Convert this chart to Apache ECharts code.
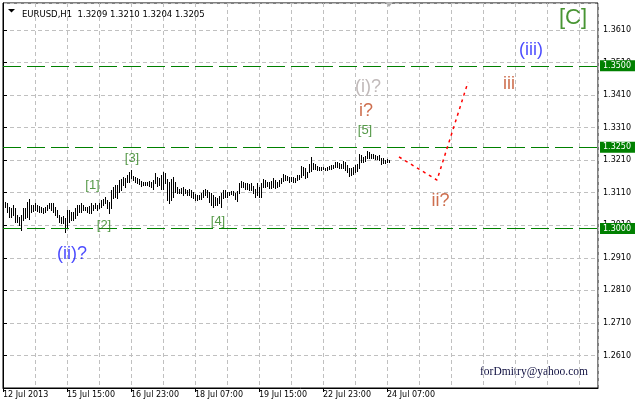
<!DOCTYPE html>
<html><head><meta charset="utf-8">
<script src="https://cdn.jsdelivr.net/npm/echarts@6/dist/echarts.min.js"></script>
<style>html,body{margin:0;padding:0;background:#fff}#c{width:637px;height:408px}</style>
</head><body><div id="c"></div>
<script>
const symbolTitle = 'EURUSD,H1  1.3209 1.3210 1.3204 1.3205';
const firstBarIndex = 1;
const barHigh = [
1.3082,1.3077,1.3067,1.3062,1.3072,1.3062,1.3041,1.3036,1.3041,1.3062,
1.3062,1.3082,1.3090,1.3072,1.3072,1.3077,1.3072,1.3069,1.3067,1.3064,
1.3067,1.3072,1.3077,1.3077,1.3079,1.3067,1.3057,1.3041,1.3036,1.3038,
1.3031,1.3057,1.3057,1.3052,1.3052,1.3062,1.3072,1.3072,1.3077,1.3072,
1.3067,1.3067,1.3069,1.3077,1.3072,1.3077,1.3072,1.3077,1.3088,1.3090,
1.3098,1.3088,1.3082,1.3118,1.3129,1.3134,1.3134,1.3149,1.3151,1.3157,
1.3154,1.3164,1.3175,1.3180,
1.3161,1.3159,1.3154,1.3151,1.3147,1.3144,1.3144,1.3144,1.3147,1.3144,
1.3149,1.3172,1.3157,1.3154,1.3164,1.3175,1.3170,1.3151,1.3144,1.3151,
1.3159,1.3144,1.3129,1.3123,1.3126,1.3129,1.3123,1.3118,1.3123,1.3118,
1.3113,1.3106,1.3103,1.3103,1.3108,1.3118,1.3120,1.3118,1.3113,1.3110,
1.3103,1.3096,1.3093,1.3100,1.3108,1.3118,1.3118,1.3113,1.3113,1.3116,
1.3116,1.3110,1.3116,1.3141,1.3147,1.3144,1.3141,1.3139,1.3137,1.3141,
1.3131,1.3123,1.3139,1.3129,1.3140,
1.3152,1.3149,1.3144,1.3144,1.3146,1.3154,1.3149,1.3144,1.3149,1.3154,
1.3169,1.3164,1.3162,1.3159,1.3159,1.3159,1.3154,1.3164,1.3164,1.3193,
1.3190,1.3185,1.3173,1.3197,1.3219,1.3200,1.3197,1.3193,1.3190,1.3190,
1.3190,1.3187,1.3190,1.3193,1.3195,1.3195,1.3205,1.3205,1.3200,1.3197,
1.3207,1.3205,1.3195,1.3187,1.3185,1.3190,1.3195,1.3197,1.3228,1.3226,
1.3221,1.3224,1.3238,1.3236,1.3228,1.3228,1.3226,1.3224,1.3226,1.3218,
1.3216,1.3210,1.3213,1.3210
];
const barLow = [
1.3067,1.3052,1.3034,1.3034,1.3041,1.3021,1.3021,1.3011,1.2997,1.3026,
1.3031,1.3036,1.3029,1.3052,1.3055,1.3057,1.3055,1.3052,1.3052,1.3049,
1.3052,1.3057,1.3062,1.3057,1.3052,1.3041,1.3036,1.3021,1.3018,1.3016,
1.2990,1.3006,1.3021,1.3026,1.3026,1.3031,1.3041,1.3052,1.3052,1.3057,
1.3057,1.3052,1.3049,1.3047,1.3057,1.3062,1.3057,1.3062,1.3067,1.3072,
1.3077,1.3062,1.3047,1.3062,1.3093,1.3098,1.3093,1.3113,1.3118,1.3134,
1.3129,1.3144,1.3144,1.3154,
1.3149,1.3144,1.3141,1.3137,1.3131,1.3134,1.3134,1.3134,1.3131,1.3127,
1.3123,1.3139,1.3131,1.3134,1.3123,1.3120,1.3139,1.3088,1.3079,1.3088,
1.3098,1.3113,1.3108,1.3110,1.3108,1.3103,1.3108,1.3103,1.3103,1.3096,
1.3093,1.3088,1.3088,1.3090,1.3090,1.3098,1.3103,1.3096,1.3082,1.3072,
1.3067,1.3072,1.3072,1.3077,1.3067,1.3093,1.3098,1.3096,1.3103,1.3106,
1.3103,1.3090,1.3086,1.3108,1.3129,1.3127,1.3123,1.3120,1.3118,1.3118,
1.3108,1.3096,1.3103,1.3098,1.3098,
1.3129,1.3129,1.3132,1.3125,1.3125,1.3129,1.3125,1.3129,1.3132,1.3139,
1.3146,1.3149,1.3149,1.3144,1.3146,1.3144,1.3142,1.3149,1.3152,1.3159,
1.3164,1.3154,1.3159,1.3173,1.3177,1.3183,1.3183,1.3180,1.3180,1.3180,
1.3183,1.3180,1.3180,1.3183,1.3183,1.3185,1.3190,1.3190,1.3187,1.3185,
1.3185,1.3180,1.3175,1.3162,1.3166,1.3169,1.3173,1.3177,1.3185,1.3203,
1.3205,1.3207,1.3216,1.3218,1.3216,1.3216,1.3214,1.3214,1.3210,1.3197,
1.3200,1.3200,1.3203,1.3203
];
const timeTickPositions = [0, 32, 64, 96, 128, 160, 192];
const timeTickLabels = ['12 Jul 2013', '15 Jul 15:00', '16 Jul 23:00', '18 Jul 07:00', '19 Jul 15:00', '22 Jul 23:00', '24 Jul 07:00'];
const levelPrices = [1.3500, 1.3250, 1.3000];
const forecastX = [198, 217, 232.5];
const forecastY = [1.3220, 1.3149, 1.3450];
const annoText = ['[C]', '(iii)', 'iii', '(i)?', 'i?', '[5]', 'ii?', '[1]', '[2]', '[3]', '[4]', '(ii)?'];
const annoKind = ['major', 'inter', 'minor', 'prev', 'minor', 'sub', 'minor', 'sub', 'sub', 'sub', 'sub', 'inter'];
const annoX = [285, 264, 253, 182.5, 181.5, 181, 218.75, 44.75, 50.5, 64.5, 107.5, 34.5];
const annoY = [1.3647, 1.3548, 1.3444, 1.3436, 1.3361, 1.3300, 1.3086, 1.3131, 1.3009, 1.3215, 1.3022, 1.2922];
const signature = 'forDmitry@yahoo.com';

const kindStyle = {
  major: {color: '#1a7a00', fontSize: 22},
  inter: {color: '#1c1cff', fontSize: 18},
  minor: {color: '#c04a22', fontSize: 18},
  prev:  {color: '#b0a8a8', fontSize: 18},
  sub:   {color: '#2a7f1a', fontSize: 13}
};

const axisFont = 'DejaVu Sans';
const chart = echarts.init(document.getElementById('c'), null, {renderer: 'canvas'});
const barData = barHigh.map((h, i) => [i + firstBarIndex, barLow[i], h]);
const annoData = annoText.map((t, i) => ({
  value: [annoX[i], annoY[i]],
  label: {show: true, position: 'inside', formatter: t, color: kindStyle[annoKind[i]].color,
          fontSize: kindStyle[annoKind[i]].fontSize, fontFamily: 'Liberation Sans'}
}));
const grayDash = {color: '#c0c0c0', width: 1, type: [4, 3]};

chart.setOption({
  animation: false,
  backgroundColor: '#ffffff',
  title: {text: symbolTitle, left: 17, top: 5,
    textStyle: {fontSize: 8.5, fontWeight: 'normal', color: '#000', fontFamily: axisFont}},
  grid: {left: 3, top: 3, right: 39, bottom: 20, show: true, borderColor: '#000', borderWidth: 1, backgroundColor: 'transparent'},
  xAxis: [
    {type: 'value', min: 0, max: 297.5, interval: 16, position: 'bottom',
     axisLine: {show: true, lineStyle: {color: '#000', width: 1}},
     axisTick: {show: false}, axisLabel: {show: false},
     splitLine: {show: true, lineStyle: grayDash}},
    {type: 'value', min: 0, max: 297.5, interval: 32, position: 'bottom',
     axisLine: {show: false},
     axisTick: {show: true, length: 4, lineStyle: {color: '#000'}, customValues: timeTickPositions},
     axisLabel: {show: true, align: 'left', margin: 3, fontSize: 8, color: '#000', fontFamily: axisFont,
       customValues: timeTickPositions,
       formatter: v => { const k = timeTickPositions.indexOf(Math.round(v)); return k >= 0 ? timeTickLabels[k] : ''; }},
     splitLine: {show: false}}
  ],
  yAxis: {type: 'value', position: 'right', min: 1.2510, max: 1.3693, interval: 0.01,
    axisLine: {show: true, lineStyle: {color: '#000', width: 1}},
    axisTick: {show: true, length: 4, lineStyle: {color: '#000'}},
    axisLabel: {show: true, margin: 5, fontSize: 8, color: '#000', fontFamily: axisFont,
      showMinLabel: false, showMaxLabel: false, formatter: v => v.toFixed(4)},
    splitLine: {show: true, lineStyle: grayDash}},
  series: [
    {type: 'custom', xAxisIndex: 0, data: barData, encode: {x: 0, y: [1, 2]}, z: 3,
     renderItem: (params, api) => {
       const x = api.value(0);
       const lo = api.coord([x, api.value(1)]);
       const hi = api.coord([x, api.value(2)]);
       const px = Math.round(lo[0]) + 0.5;
       return {type: 'line', shape: {x1: px, y1: Math.round(hi[1]), x2: px, y2: Math.round(lo[1]) + 1},
               style: {stroke: '#000', lineWidth: 1}};
     }},
    {type: 'line', xAxisIndex: 0, data: [], z: 4,
     markLine: {silent: true, symbol: ['none', 'none'], animation: false, precision: 4,
       lineStyle: {color: '#008000', width: 1, type: [18, 6]},
       label: {show: true, position: 'end', distance: 2, formatter: p => Number(p.value).toFixed(4),
         color: '#fff', backgroundColor: '#008000', padding: [2, 4, 1, 3], fontSize: 8, fontFamily: axisFont},
       data: levelPrices.map(v => ({yAxis: v}))}},
    {type: 'line', xAxisIndex: 0, data: forecastX.map((x, i) => [x, forecastY[i]]), symbol: 'none', z: 5,
     lineStyle: {color: '#ff0000', width: 1.5, type: [3, 4]}},
    {type: 'scatter', xAxisIndex: 0, data: annoData, symbolSize: 1, itemStyle: {color: 'transparent'}, z: 6, silent: true}
  ],
  graphic: [
    {type: 'polygon', shape: {points: [[8, 9], [15, 9], [11.5, 12.5]]}, style: {fill: '#000'}},
    {type: 'polygon', shape: {points: [[385, 2], [393, 2], [389, 7]]}, style: {fill: '#b0b0b0'}},
    {type: 'text', left: 480, top: 366, style: {text: signature, fill: '#101040', font: '11.5px "Liberation Serif"'}}
  ]
});
</script></body></html>
